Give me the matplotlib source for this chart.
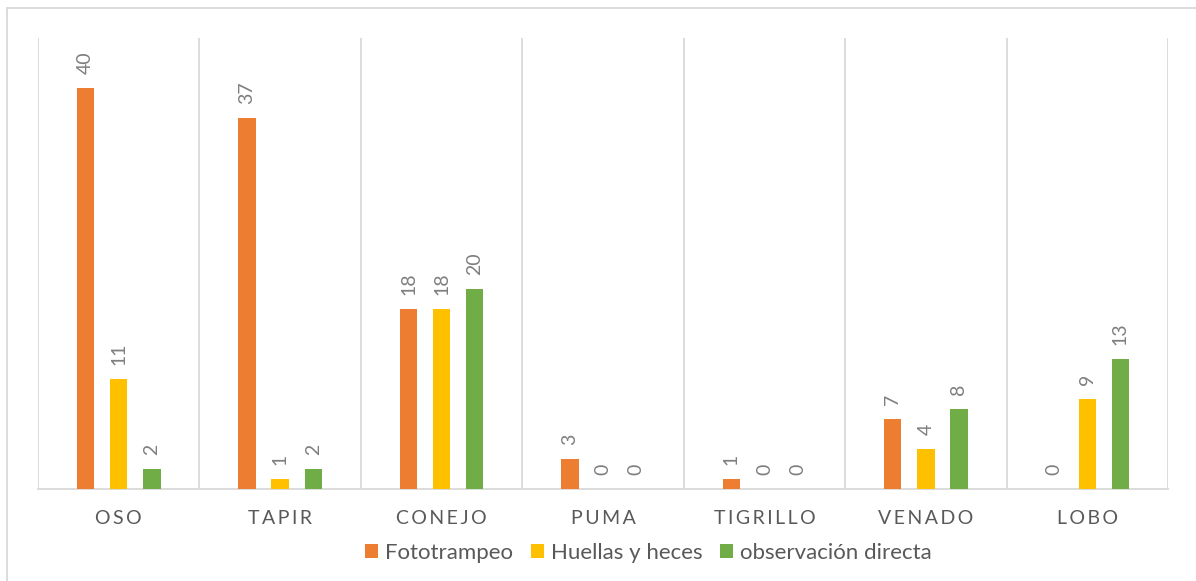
import numpy as np
import matplotlib
matplotlib.use('Agg')
import matplotlib.pyplot as plt
from matplotlib.patches import Rectangle

plt.rcParams['font.family'] = ['Lato', 'DejaVu Sans']

# datos
categorias = ['OSO', 'TAPIR', 'CONEJO', 'PUMA', 'TIGRILLO', 'VENADO', 'LOBO']
series = ['Fototrampeo', 'Huellas y heces', 'observación directa']
fototrampeo = [40, 37, 18, 3, 1, 7, 0]
huellas = [11, 1, 18, 0, 0, 4, 9]
observacion = [2, 2, 20, 0, 0, 8, 13]
colores = ['#ED7D31', '#FFC000', '#70AD47']

fig = plt.figure(figsize=(11.96, 5.81), dpi=100)
ax = fig.add_axes([38 / 1196, 1 - 489 / 581, (1168 - 38) / 1196, (489 - 38) / 581])

# borde del grafico (solo se ven arriba e izquierda)
fig.patches.append(Rectangle((7 / 1196, -0.1), 1.2, 1.1 - 8 / 581, transform=fig.transFigure,
                             fill=False, edgecolor='#D9D9D9', linewidth=1.3, zorder=0))

x = np.arange(len(categorias))
ancho = 0.108
desplazamiento = 0.205
valores = [fototrampeo, huellas, observacion]

for i, (nombre, vals, c) in enumerate(zip(series, valores, colores)):
    pos = x + (i - 1) * desplazamiento
    barras = ax.bar(pos, vals, width=ancho, color=c, label=nombre, zorder=3)
    for b, v in zip(barras, vals):
        ax.annotate(str(v), (b.get_x() + b.get_width() / 2, v), xytext=(0, 10),
                    textcoords='offset points', rotation=90, ha='center', va='bottom',
                    fontsize=14, color='#7F7F7F')

# lineas verticales entre categorias
for k in range(len(categorias) + 1):
    ax.axvline(k - 0.5, color='#D9D9D9', linewidth=1.3, zorder=1)

ax.set_xlim(-0.5, len(categorias) - 0.5)
ax.set_ylim(0, 45)
ax.set_yticks([])
ax.set_xticks(x)
ax.set_xticklabels(['\u2009'.join(c) for c in categorias], fontsize=14, color='#595959')
ax.tick_params(axis='x', length=0, pad=15)
for s in ['top', 'left', 'right']:
    ax.spines[s].set_visible(False)
ax.spines['bottom'].set_color('#D9D9D9')
ax.spines['bottom'].set_linewidth(1.3)

fig.legend(loc='center', bbox_to_anchor=(0.542, 0.048), ncol=3, frameon=False,
           fontsize=16, handlelength=0.6, handleheight=0.6, handletextpad=0.3,
           columnspacing=0.8, labelcolor='#595959')

fig.savefig('out.png', dpi=100)
